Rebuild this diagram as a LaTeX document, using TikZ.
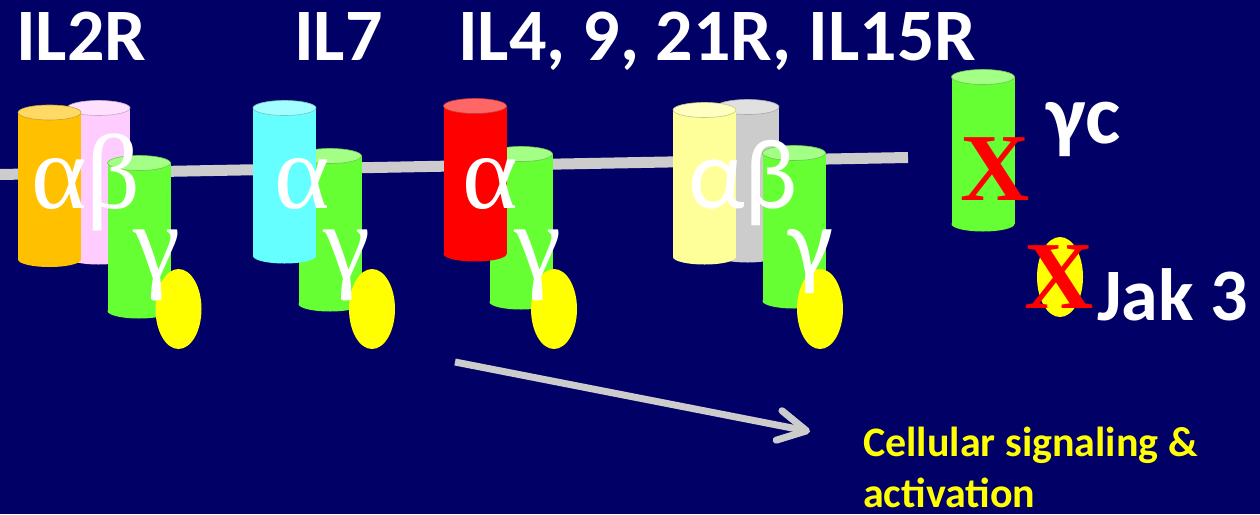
\documentclass[tikz,border=0pt]{standalone}
\usepackage{fontspec}
\setmainfont{Carlito}
\newfontfamily\timesgreek{Liberation Serif}
\usepackage{tikz}
\usetikzlibrary{arrows.meta}

\definecolor{navy}{HTML}{000066}
\definecolor{chorange}{HTML}{FFC000}
\definecolor{chpink}{HTML}{FFCCFF}
\definecolor{chgreen}{HTML}{66FF33}
\definecolor{chcyan}{HTML}{66FFFF}
\definecolor{chred}{HTML}{FF0000}
\definecolor{chcream}{HTML}{FFFF99}
\definecolor{chgray}{HTML}{CCCCCC}
\definecolor{jak}{HTML}{FFFF00}

\begin{document}
\begin{tikzpicture}[x=1pt,y=-1pt,
  title/.style={text=white,inner sep=0pt,anchor=base west,
    font=\bfseries\fontsize{74}{86}\selectfont},
  greek/.style={text=white,inner sep=0pt,anchor=base,
    font=\timesgreek\fontsize{106}{120}\selectfont},
  greeksans/.style={text=white,inner sep=0pt,anchor=base,
    font=\fontsize{100}{120}\selectfont},
  cross/.style={text=chred,inner sep=0pt,anchor=base,
    font=\timesgreek\bfseries\fontsize{96}{110}\selectfont}]

  % background
  \fill[navy] (0,0) rectangle (1260,514);
  \useasboundingbox (0,0) rectangle (1260,514);

  % membrane
  \coordinate (mem west) at (0,174.5);
  \coordinate (mem east) at (908,157.5);
  \draw[chgray,line width=11pt] (mem west) -- (mem east);

  % receptor chains: centre x / top y / bottom y / colour
  \foreach \cx/\ct/\cb/\cc in {98.5/108/257/chpink, 49.5/112.5/259.5/chorange,
      139/163/311/chgreen,
      330/156/304/chgreen, 284.5/108/256/chcyan,
      521/154/302/chgreen, 475/106/254/chred,
      747.5/107/255/chgray, 704.5/110/257/chcream, 794/153/301/chgreen,
      983/77/224/chgreen}{
    \fill[\cc] (\cx-31.5,\ct) rectangle (\cx+31.5,\cb);
    \fill[\cc] (\cx,\cb) ellipse [x radius=31.5,y radius=7.5];
    \filldraw[fill=\cc!60!white,draw=\cc!55!gray,line width=0.6pt]
      (\cx,\ct) ellipse [x radius=31.5,y radius=7.5];
  }

  % Jak 3 under each gamma chain
  \foreach \jx in {178.5,372,554,820}{
    \fill[jak] (\jx,309) ellipse [x radius=23,y radius=40];
  }
  \fill[jak] (1060,277) ellipse [x radius=23,y radius=40];

  % chain letters
  \node[greek] (ab2) at (86,208) {αβ};
  \node[greek] (g2) at (157,278) {γ};
  \node[greek] (a7) at (302,208) {α};
  \node[greek] (g7) at (347,278) {γ};
  \node[greek] (a4) at (490,208) {α};
  \node[greek] (g4) at (538,278) {γ};
  \node[greeksans] (ab15) at (743,208) {αβ};
  \node[greeksans] (g15) at (811,277) {γ};

  % knocked out gamma chain and Jak 3
  \node[cross] (xgc) at (995,200) {X};
  \node[cross] (xjak) at (1059,308) {X};
  \node[text=white,inner sep=0pt,anchor=base west,
    font=\bfseries\fontsize{84}{96}\selectfont] (gc) at (1046,143) {γc};
  \node[title] (jak3) at (1097,320) {Jak 3};

  % receptor names
  \node[title] (il2) at (16,60) {IL2R};
  \node[title] (il7) at (294,60) {IL7};
  \node[title] (il4) at (458,60) {IL4, 9, 21R, IL15R};

  % signalling
  \coordinate (sig start) at (455,362);
  \coordinate (sig end) at (810,431.5);
  \draw[chgray,line width=7pt,-{Straight Barb[length=28pt,width=30pt,round]}]
    (sig start) -- (sig end);
  \node[text=jak,inner sep=0pt,anchor=base west,align=left,
    font=\bfseries\fontsize{42}{51}\selectfont] (signal) at (863,507)
    {Cellular signaling \&\\activation};

\end{tikzpicture}
\end{document}
